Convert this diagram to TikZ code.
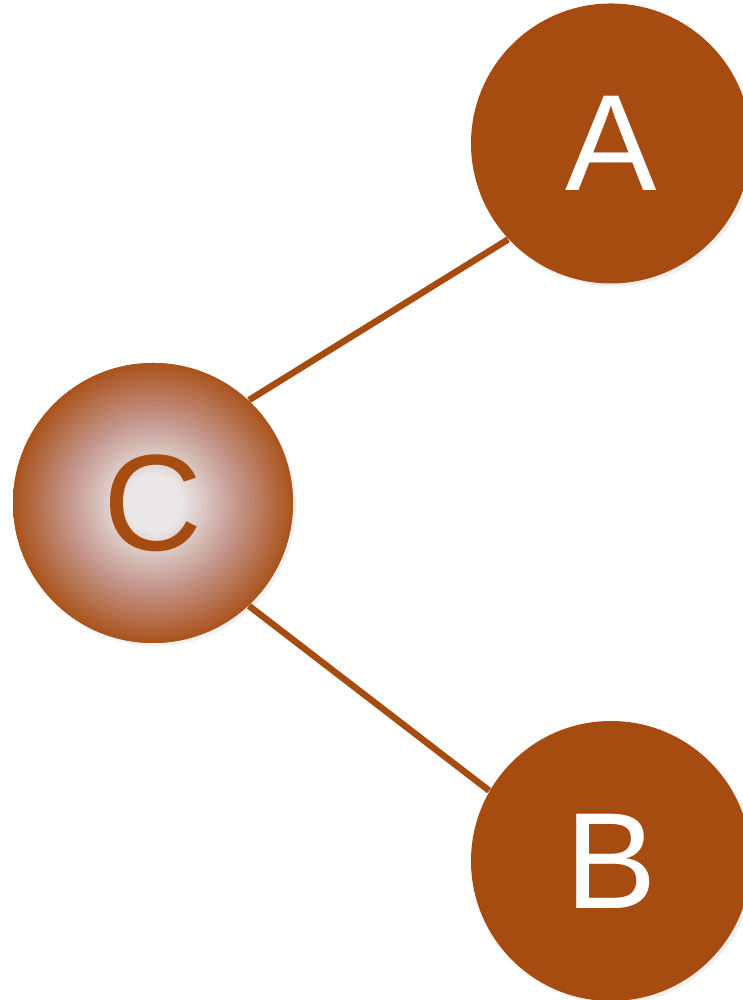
\documentclass[tikz,border=0pt]{standalone}
\usepackage{fontspec}
\setmainfont{Liberation Sans}
\usetikzlibrary{shadows}
\definecolor{rust}{RGB}{167,76,16}
\definecolor{pearl}{RGB}{233,231,231}
\definecolor{rose}{RGB}{196,150,140}
\pgfdeclareradialshading{glow}{\pgfpoint{0bp}{0bp}}{%
  color(0bp)=(pearl); color(5bp)=(pearl); color(15bp)=(rose); color(26bp)=(rust); color(100bp)=(rust)}

\begin{document}
\begin{tikzpicture}[
        leaf/.style={circle, fill=rust, text=white, minimum size=28cm/10, inner sep=0pt,
            font=\fontsize{39}{39}\selectfont,
            drop shadow={opacity=0.12, shadow xshift=0.03cm, shadow yshift=-0.03cm}},
        root/.style={leaf, shading=glow, text=rust},
        link/.style={draw=rust, line width=0.065cm}]
        \useasboundingbox (0,0) rectangle (7.42,10);

        % Nodes
        \node[leaf] (A) at (6.11,8.565) {A};
        \node[leaf] (B) at (6.11,1.39) {B};
        \node[root] (C) at (1.53,4.97) {C};

        % Links
        \path[link]
            (C.47) edge (A.223)
            (C.-47) edge (B.150);
    \end{tikzpicture}
\end{document}
